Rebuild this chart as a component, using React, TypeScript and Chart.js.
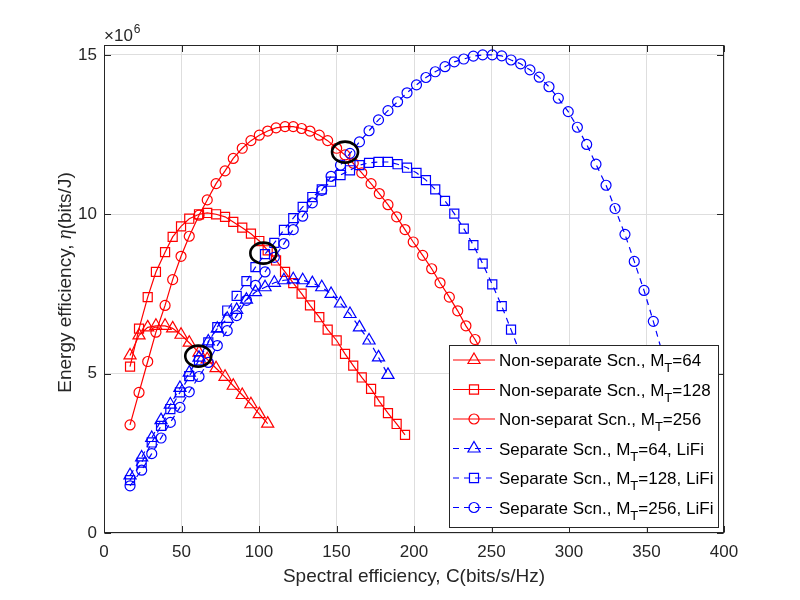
import React, { useEffect, useRef } from 'react';
import { Chart, registerables } from 'chart.js';

Chart.register(...registerables);

// ---- data (energy efficiency in units of 1e6 bits/J) ----
const redX = [16.8, 22.6, 28.2, 33.5, 39.4, 44.3, 49.7, 55.0, 61.3, 66.6, 72.3, 78.1, 83.4, 89.2, 94.8, 100.2, 105.6, 111.0, 116.8, 122.1, 127.5, 132.9, 138.9, 144.3, 150.1, 155.5, 160.8, 166.3, 172.3, 177.6, 183.2, 188.8, 194.2, 199.5, 205.6, 211.4, 216.8, 222.8, 228.2, 233.5, 239.4, 244.9, 250.5];
const redTriY = [5.57, 6.20, 6.45, 6.50, 6.50, 6.42, 6.22, 5.97, 5.66, 5.45, 5.17, 4.90, 4.62, 4.33, 4.04, 3.73, 3.43];
const redSqY = [5.22, 6.41, 7.40, 8.19, 8.81, 9.29, 9.62, 9.86, 10.00, 10.04, 10.00, 9.92, 9.76, 9.58, 9.39, 9.16, 8.87, 8.55, 8.19, 7.84, 7.51, 7.14, 6.77, 6.38, 6.04, 5.62, 5.25, 4.88, 4.52, 4.13, 3.76, 3.42, 3.08];
const redCircY = [3.39, 4.41, 5.38, 6.30, 7.14, 7.95, 8.68, 9.31, 9.97, 10.45, 10.96, 11.36, 11.75, 12.07, 12.31, 12.48, 12.61, 12.71, 12.75, 12.75, 12.69, 12.61, 12.48, 12.31, 12.07, 11.86, 11.60, 11.30, 10.96, 10.65, 10.30, 9.92, 9.52, 9.13, 8.71, 8.29, 7.85, 7.40, 6.97, 6.50, 6.07, 5.60, 5.10];

const blueX = [16.8, 24.3, 30.8, 36.8, 42.8, 49.0, 55.0, 61.3, 67.3, 73.1, 79.5, 85.6, 91.9, 97.7, 103.9, 109.9, 116.1, 122.1, 128.2, 134.4, 140.5, 146.5, 152.6, 158.7, 164.8, 171.0, 177.1, 183.2, 189.4, 195.5, 201.6, 207.7, 213.7, 220.0, 226.0, 232.1, 238.3, 244.3, 250.5, 256.6, 262.6, 268.8, 274.8, 280.8, 287.1, 293.1, 299.5, 305.4, 311.4, 317.4, 323.9, 329.7, 336.1, 342.1, 348.4, 354.4, 360.5, 366.5];
const blueTriY = [1.81, 2.37, 2.98, 3.54, 4.03, 4.55, 5.03, 5.50, 6.01, 6.41, 6.72, 7.00, 7.32, 7.56, 7.71, 7.85, 7.93, 7.96, 7.93, 7.84, 7.71, 7.50, 7.20, 6.87, 6.45, 6.04, 5.51, 4.96];
const blueSqY = [1.66, 2.21, 2.84, 3.36, 3.89, 4.41, 4.92, 5.42, 5.98, 6.46, 6.98, 7.44, 7.90, 8.34, 8.75, 9.10, 9.51, 9.88, 10.23, 10.54, 10.78, 11.02, 11.23, 11.38, 11.54, 11.61, 11.64, 11.64, 11.57, 11.46, 11.30, 11.07, 10.78, 10.42, 10.02, 9.55, 9.03, 8.45, 7.80, 7.12, 6.38, 5.60, 4.75];
const blueCircY = [1.48, 1.97, 2.49, 2.98, 3.47, 3.94, 4.43, 4.91, 5.35, 5.88, 6.35, 6.82, 7.30, 7.77, 8.19, 8.65, 9.08, 9.52, 9.94, 10.36, 10.75, 11.19, 11.54, 11.91, 12.27, 12.62, 12.96, 13.25, 13.53, 13.81, 14.06, 14.29, 14.47, 14.63, 14.78, 14.87, 14.96, 15.00, 15.00, 14.97, 14.84, 14.72, 14.53, 14.30, 14.00, 13.64, 13.22, 12.73, 12.19, 11.57, 10.91, 10.18, 9.37, 8.52, 7.61, 6.64, 5.60, 4.50];

// highlighted crossings (black ellipses)
const markX = [155.5, 102.8, 60.8];
const markY = [11.95, 8.78, 5.55];

const xTicks = [0, 50, 100, 150, 200, 250, 300, 350, 400];
const yTicks = [0, 5, 10, 15];
const yExponentBase = '\u00D710';
const yExponent = '6';
const xTitle = 'Spectral efficiency, C(bits/s/Hz)';
const yTitleParts = ['Energy efficiency, ', '\u03B7', '(bits/J)'];

const legendMain = ['Non-separate Scn., M', 'Non-separate Scn., M', 'Non-separat Scn., M', 'Separate Scn., M', 'Separate Scn., M', 'Separate Scn., M'];
const legendSub = 'T';
const legendTail = ['=64', '=128', '=256', '=64, LiFi', '=128, LiFi', '=256, LiFi'];

const RED = '#ff0000';
const BLUE = '#0000ff';
const AXIS = '#262626';
const FONT = '"Liberation Sans", Arial, Helvetica, sans-serif';

const pts = (xs: number[], ys: number[]) => ys.map((y, i) => ({ x: xs[i], y }));

const seriesDefs = [
  { data: pts(redX, redTriY), color: RED, dash: [] as number[], style: 'triangle', r: 7 },
  { data: pts(redX, redSqY), color: RED, dash: [] as number[], style: 'rect', r: 6.4 },
  { data: pts(redX, redCircY), color: RED, dash: [] as number[], style: 'circle', r: 5 },
  { data: pts(blueX, blueTriY), color: BLUE, dash: [6, 5], style: 'triangle', r: 7 },
  { data: pts(blueX, blueSqY), color: BLUE, dash: [6, 5], style: 'rect', r: 6.4 },
  { data: pts(blueX, blueCircY), color: BLUE, dash: [6, 5], style: 'circle', r: 5 },
];

function drawMarker(ctx: CanvasRenderingContext2D, style: string, x: number, y: number, r: number) {
  ctx.beginPath();
  if (style === 'circle') {
    ctx.arc(x, y, r, 0, Math.PI * 2);
  } else if (style === 'rect') {
    const s = r * Math.SQRT1_2;
    ctx.rect(x - s, y - s, 2 * s, 2 * s);
  } else {
    let a = 0;
    ctx.moveTo(x + Math.sin(a) * r, y - Math.cos(a) * r);
    a += (2 * Math.PI) / 3;
    ctx.lineTo(x + Math.sin(a) * r, y - Math.cos(a) * r);
    a += (2 * Math.PI) / 3;
    ctx.lineTo(x + Math.sin(a) * r, y - Math.cos(a) * r);
    ctx.closePath();
  }
  ctx.stroke();
}

const decorPlugin = {
  id: 'decor',
  afterDatasetsDraw(chart: any) {
    const ctx: CanvasRenderingContext2D = chart.ctx;
    const area = chart.chartArea;
    const xs = chart.scales.x;
    const ys = chart.scales.y;
    ctx.save();

    // ellipses
    ctx.strokeStyle = '#000';
    ctx.lineWidth = 2.6;
    markX.forEach((mx, i) => {
      ctx.beginPath();
      ctx.ellipse(xs.getPixelForValue(mx), ys.getPixelForValue(markY[i]), 13, 10.5, 0, 0, Math.PI * 2);
      ctx.stroke();
    });

    // box and inward ticks
    const L = Math.round(area.left) + 0.5;
    const R = Math.round(area.right) - 0.5;
    const T = Math.round(area.top) + 0.5;
    const B = Math.round(area.bottom) - 0.5;
    ctx.strokeStyle = AXIS;
    ctx.lineWidth = 1;
    ctx.setLineDash([]);
    ctx.strokeRect(L, T, R - L, B - T);
    ctx.beginPath();
    xTicks.forEach((v) => {
      const px = Math.round(xs.getPixelForValue(v)) + 0.5;
      ctx.moveTo(px, B); ctx.lineTo(px, B - 6.5);
      ctx.moveTo(px, T); ctx.lineTo(px, T + 6.5);
    });
    yTicks.forEach((v) => {
      const py = Math.round(ys.getPixelForValue(v)) + 0.5;
      ctx.moveTo(L, py); ctx.lineTo(L + 6.5, py);
      ctx.moveTo(R, py); ctx.lineTo(R - 6.5, py);
    });
    ctx.stroke();

    // axis titles
    ctx.fillStyle = AXIS;
    ctx.textBaseline = 'alphabetic';
    ctx.textAlign = 'center';
    ctx.font = `19px ${FONT}`;
    ctx.fillText(xTitle, (area.left + area.right) / 2, 582);

    ctx.save();
    ctx.translate(71, 282.5);
    ctx.rotate(-Math.PI / 2);
    ctx.textAlign = 'left';
    const fonts = [`19px ${FONT}`, `italic 20px "Liberation Serif", serif`, `19px ${FONT}`];
    let total = 0;
    const widths = yTitleParts.map((p, i) => {
      ctx.font = fonts[i];
      const w = ctx.measureText(p).width;
      total += w;
      return w;
    });
    let cx = -total / 2;
    yTitleParts.forEach((p, i) => {
      ctx.font = fonts[i];
      ctx.fillText(p, cx, 0);
      cx += widths[i];
    });
    ctx.restore();

    // exponent label
    ctx.textAlign = 'left';
    ctx.font = `17px ${FONT}`;
    ctx.fillText(yExponentBase, area.left, 41);
    const bw = ctx.measureText(yExponentBase).width;
    ctx.font = `12px ${FONT}`;
    ctx.fillText(yExponent, area.left + bw + 1, 33);

    // legend
    const lx = 449.5, ly = 345.5, lw = 269, lh = 182;
    ctx.fillStyle = '#fff';
    ctx.fillRect(lx, ly, lw, lh);
    ctx.strokeStyle = AXIS;
    ctx.lineWidth = 1;
    ctx.strokeRect(lx, ly, lw, lh);
    seriesDefs.forEach((s, i) => {
      const cy = 360 + 29.5 * i;
      ctx.strokeStyle = s.color;
      ctx.lineWidth = 1.2;
      ctx.setLineDash(s.dash);
      ctx.beginPath();
      ctx.moveTo(453, cy);
      ctx.lineTo(495, cy);
      ctx.stroke();
      ctx.setLineDash([]);
      drawMarker(ctx, s.style, 474, cy, s.r);
      ctx.fillStyle = '#000';
      ctx.font = `17px ${FONT}`;
      let tx = 499;
      ctx.fillText(legendMain[i], tx, cy + 6);
      tx += ctx.measureText(legendMain[i]).width;
      ctx.font = `13px ${FONT}`;
      ctx.fillText(legendSub, tx, cy + 12);
      tx += ctx.measureText(legendSub).width;
      ctx.font = `17px ${FONT}`;
      ctx.fillText(legendTail[i], tx, cy + 6);
    });

    ctx.restore();
  },
};

export default function App() {
  const ref = useRef<HTMLCanvasElement>(null);
  useEffect(() => {
    document.body.style.margin = '0';
    const canvas = ref.current;
    if (!canvas) return;
    const chart = new Chart(canvas, {
      type: 'scatter',
      data: {
        datasets: seriesDefs.map((s, i) => ({
          data: s.data,
          showLine: true,
          borderColor: s.color,
          backgroundColor: 'rgba(0,0,0,0)',
          borderWidth: 1.2,
          borderDash: s.dash,
          tension: 0,
          pointStyle: s.style,
          pointRadius: s.r,
          pointHoverRadius: s.r,
          pointBorderWidth: 1.2,
          pointBorderColor: s.color,
          pointBackgroundColor: 'rgba(0,0,0,0)',
          order: 10 - i,
        })),
      },
      options: {
        animation: false,
        responsive: false,
        devicePixelRatio: 1,
        events: [],
        layout: { padding: { left: 0, top: 45, right: 76, bottom: 0 } },
        plugins: { legend: { display: false }, tooltip: { enabled: false }, title: { display: false } },
        scales: {
          x: {
            type: 'linear',
            min: 0,
            max: 400,
            afterBuildTicks: (s: any) => { s.ticks = xTicks.map((v) => ({ value: v })); },
            afterFit: (s: any) => { s.height = 67; },
            ticks: { font: { family: FONT, size: 17 }, color: AXIS, padding: 9, maxRotation: 0, autoSkip: false, callback: (v: any) => String(v) },
            grid: { color: '#dedede', lineWidth: 1, drawTicks: false },
            border: { display: false },
          },
          y: {
            type: 'linear',
            min: 0,
            max: 15.31,
            afterBuildTicks: (s: any) => { s.ticks = yTicks.map((v) => ({ value: v })); },
            afterFit: (s: any) => { s.width = 104; },
            ticks: { font: { family: FONT, size: 17 }, color: AXIS, padding: 7, autoSkip: false, callback: (v: any) => String(v) },
            grid: { color: '#dedede', lineWidth: 1, drawTicks: false },
            border: { display: false },
          },
        },
      },
      plugins: [decorPlugin],
    } as any);
    return () => chart.destroy();
  }, []);
  return (
    <div style={{ position: 'absolute', left: 0, top: 0, width: 800, height: 600, background: '#fff' }}>
      <canvas ref={ref} width={800} height={600} style={{ display: 'block' }} />
    </div>
  );
}
